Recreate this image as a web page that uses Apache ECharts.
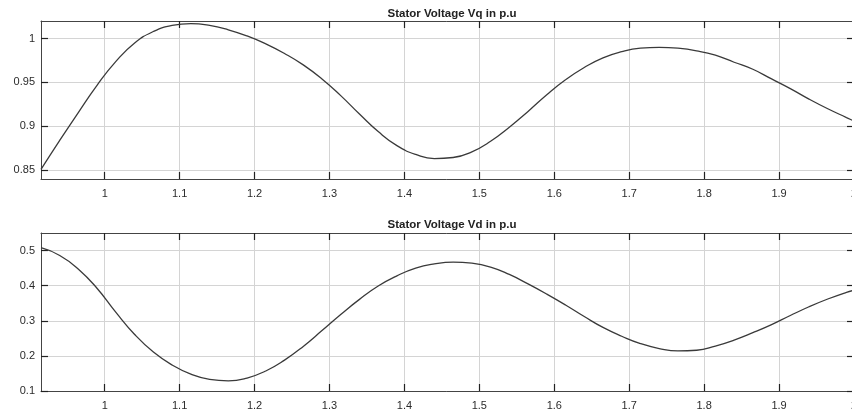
<!DOCTYPE html>
<html>
<head>
<meta charset="utf-8">
<script src="https://cdn.jsdelivr.net/npm/echarts@6/dist/echarts.min.js"></script>
<style>
  html, body { margin: 0; padding: 0; background: #fff; }
  #chart { width: 852px; height: 410px; }
</style>
</head>
<body>
<div id="chart"></div>
<script>
// Time axis (s) shared by both traces
const time = [0.915, 0.94, 0.965, 0.99, 1.015, 1.04, 1.065, 1.09, 1.115, 1.14, 1.165,
  1.19, 1.215, 1.24, 1.265, 1.29, 1.315, 1.34, 1.365, 1.39, 1.415, 1.44, 1.465,
  1.49, 1.515, 1.54, 1.565, 1.59, 1.615, 1.64, 1.665, 1.69, 1.715, 1.74, 1.765,
  1.79, 1.815, 1.84, 1.865, 1.89, 1.915, 1.94, 1.965, 1.99, 2.0];

// Stator voltage, q-axis component (p.u)
const vq = [0.851, 0.884, 0.916, 0.947, 0.974, 0.995, 1.008, 1.015, 1.017, 1.015, 1.010,
  1.003, 0.994, 0.983, 0.970, 0.954, 0.935, 0.914, 0.894, 0.878, 0.868, 0.8632, 0.8645,
  0.871, 0.883, 0.899, 0.917, 0.936, 0.953, 0.967, 0.978, 0.985, 0.989, 0.990, 0.989,
  0.986, 0.981, 0.973, 0.965, 0.954, 0.943, 0.931, 0.920, 0.910, 0.906];

// Stator voltage, d-axis component (p.u)
const vd = [0.508, 0.486, 0.447, 0.392, 0.324, 0.261, 0.211, 0.174, 0.148, 0.133, 0.129,
  0.137, 0.157, 0.188, 0.227, 0.272, 0.318, 0.361, 0.399, 0.428, 0.450, 0.462, 0.467,
  0.464, 0.453, 0.432, 0.405, 0.376, 0.345, 0.312, 0.281, 0.256, 0.235, 0.221, 0.214,
  0.216, 0.228, 0.245, 0.266, 0.289, 0.315, 0.340, 0.362, 0.381, 0.387];

const timeTicks = [1, 1.1, 1.2, 1.3, 1.4, 1.5, 1.6, 1.7, 1.8, 1.9, 2];
const vqTicks = [0.85, 0.9, 0.95, 1];
const vdTicks = [0.1, 0.2, 0.3, 0.4, 0.5];

const titles = ['Stator Voltage Vq in p.u', 'Stator Voltage Vd in p.u'];

const chart = echarts.init(document.getElementById('chart'), null, { renderer: 'canvas' });

const FONT = 'Liberation Sans, Arial, sans-serif';
const labelFont = { fontFamily: FONT, fontSize: 11, color: '#2b2b2b' };
const gridLine = { show: true, lineStyle: { color: '#d4d4d4', width: 1 } };
const axisLine = { show: true, onZero: false, lineStyle: { color: '#444', width: 1 } };
const tick = (vals) => ({ show: true, inside: true, length: 7, customValues: vals, lineStyle: { color: '#222', width: 1.2 } });

function xAxes(gi) {
  return [
    {
      type: 'value', gridIndex: gi, position: 'bottom', min: 0.915, max: 2.0,
      axisLine: axisLine,
      axisTick: tick(timeTicks),
      axisLabel: Object.assign({ customValues: timeTicks, margin: 9, hideOverlap: false }, labelFont),
      splitLine: gridLine
    },
    {
      type: 'value', gridIndex: gi, position: 'top', min: 0.915, max: 2.0,
      axisLine: axisLine,
      axisTick: tick(timeTicks),
      axisLabel: { show: false },
      splitLine: { show: false }
    }
  ];
}

function yAxes(gi, min, max, vals) {
  return [
    {
      type: 'value', gridIndex: gi, position: 'left', min: min, max: max,
      axisLine: axisLine,
      axisTick: tick(vals),
      axisLabel: Object.assign({ customValues: vals, margin: 6 }, labelFont),
      splitLine: gridLine
    },
    {
      type: 'value', gridIndex: gi, position: 'right', min: min, max: max,
      axisLine: axisLine,
      axisTick: tick(vals),
      axisLabel: { show: false },
      splitLine: { show: false }
    }
  ];
}

const pairs = (ys) => time.map((t, i) => [t, ys[i]]);
const traceStyle = { color: '#3a3a3a', width: 1.3 };

chart.setOption({
  animation: false,
  backgroundColor: '#ffffff',
  title: [
    { text: titles[0], left: 447, top: 3, textAlign: 'center',
      textStyle: { fontFamily: FONT, fontSize: 11.5, fontWeight: 'bold', color: '#222' } },
    { text: titles[1], left: 447, top: 214, textAlign: 'center',
      textStyle: { fontFamily: FONT, fontSize: 11.5, fontWeight: 'bold', color: '#222' } }
  ],
  grid: [
    { left: 41, top: 21, width: 813, height: 158, outerBoundsMode: 'none', containLabel: false },
    { left: 41, top: 233, width: 813, height: 158, outerBoundsMode: 'none', containLabel: false }
  ],
  xAxis: [...xAxes(0), ...xAxes(1)],
  yAxis: [...yAxes(0, 0.84, 1.02, vqTicks), ...yAxes(1, 0.1, 0.55, vdTicks)],
  series: [
    { type: 'line', xAxisIndex: 0, yAxisIndex: 0, data: pairs(vq),
      smooth: 0.5, showSymbol: false, lineStyle: traceStyle },
    { type: 'line', xAxisIndex: 2, yAxisIndex: 2, data: pairs(vd),
      smooth: 0.5, showSymbol: false, lineStyle: traceStyle }
  ]
});
</script>
</body>
</html>
